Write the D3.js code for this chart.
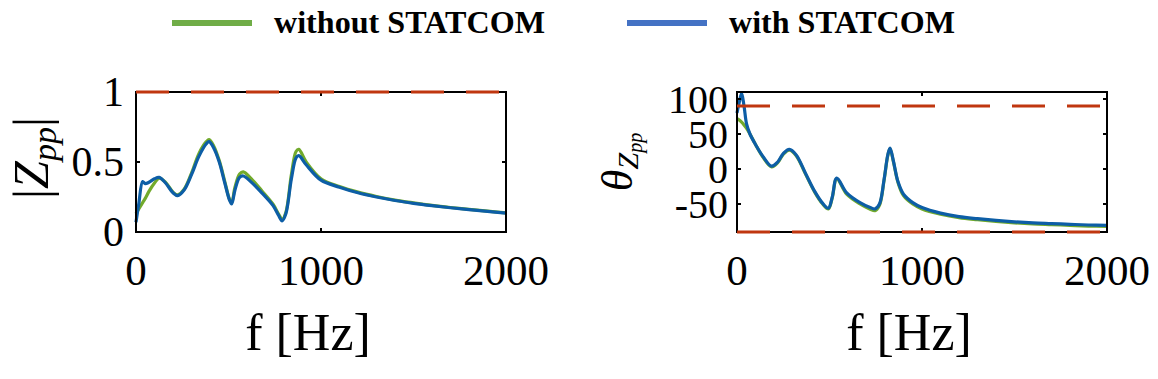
<!DOCTYPE html>
<html>
<head>
<meta charset="utf-8">
<script src="https://cdn.jsdelivr.net/npm/d3@7"></script>
<style>
body { margin: 0; background: #fff; }
text { font-family: "Liberation Serif", "DejaVu Serif", serif; }
</style>
</head>
<body>
<svg id="chart" width="1158" height="379"></svg>
<script>
// legend
const seriesNames = ["without STATCOM", "with STATCOM"];
const legendColors = ["#70ad47", "#4472c4"];
const lineColors = ["#72aa2c", "#0d5ea6"];

// |Zpp| panel
const magFreq = [0, 15, 36, 50, 70, 100, 125, 160, 200, 225, 260, 300, 340, 380, 395, 420, 450, 480, 505, 517,
    535, 560, 580, 620, 680, 740, 770, 790, 810, 840, 865, 880, 920, 1000, 1100, 1200, 1300, 1400, 1500, 1600,
    1700, 1800, 1900, 2000];
const magWithout = [0.13, 0.165, 0.21, 0.24, 0.29, 0.35, 0.385, 0.355, 0.285, 0.265, 0.305, 0.42, 0.56, 0.645, 0.66, 0.615, 0.51, 0.36, 0.235, 0.21,
    0.32, 0.415, 0.43, 0.385, 0.295, 0.2, 0.13, 0.09, 0.14, 0.41, 0.575, 0.59, 0.5, 0.38, 0.325, 0.285, 0.254, 0.228, 0.208, 0.19,
    0.175, 0.162, 0.149, 0.137];
const magWith = [0.07, 0.2, 0.36, 0.345, 0.355, 0.38, 0.39, 0.35, 0.28, 0.26, 0.3, 0.41, 0.54, 0.63, 0.645, 0.6, 0.5, 0.35, 0.23, 0.2,
    0.3, 0.39, 0.4, 0.36, 0.28, 0.19, 0.12, 0.08, 0.13, 0.38, 0.53, 0.545, 0.48, 0.37, 0.32, 0.28, 0.25, 0.225, 0.205, 0.188,
    0.173, 0.16, 0.147, 0.135];
const magTicks = [0, 0.5, 1];
const magLimits = [1];

// angle panel
const angFreq = [0, 12, 25, 38, 52, 70, 100, 140, 187, 220, 250, 283, 320, 370, 420, 460, 494, 515, 539, 593,
    665, 720, 746, 770, 795, 815, 827, 845, 870, 900, 950, 1000, 1100, 1200, 1300, 1400, 1500, 1600, 1700, 1800,
    1900, 2000];
const angWithout = [72, 70, 67, 63, 58, 50, 35, 17, 3, 9, 21, 27, 19, -7, -33, -49, -57, -41, -14, -36,
    -50, -57.5, -59.5, -52, -16, 19, 29, 11, -19, -38, -50, -57, -64.5, -69.5, -72.5, -75, -77, -78.5, -79.5, -80.5,
    -81.5, -82];
const angWith = [80, 95, 108, 90, 64, 50, 35, 18, 4, 10, 22, 28, 20, -6, -32, -48, -56, -40, -13, -34,
    -48, -55, -57, -50, -15, 20, 30, 12, -18, -36, -48, -55, -63, -68, -71, -73.5, -75.5, -77, -78, -79,
    -80, -80.5];
const angTicks = [-50, 0, 50, 100];
const angLimits = [90, -90];

const freqTicks = [0, 1000, 2000];

const svg = d3.select("#chart");

// legend on top
const legendX = [172, 627];
seriesNames.forEach((name, i) => {
    svg.append("line")
        .attr("x1", legendX[i]).attr("x2", legendX[i] + 80)
        .attr("y1", 23).attr("y2", 23)
        .attr("stroke", legendColors[i])
        .attr("stroke-width", 6);
    svg.append("text")
        .attr("x", legendX[i] + 102)
        .attr("y", 33)
        .attr("font-size", 31)
        .attr("font-weight", "bold")
        .attr("textLength", i == 0 ? 271 : 226)
        .attr("lengthAdjust", "spacingAndGlyphs")
        .text(name);
});

function drawPanel(cfg) {
    const x = d3.scaleLinear().domain([0, 2000]).range([cfg.left, cfg.left + 370]);
    const y = d3.scaleLinear().domain(cfg.yDomain).range([232, 92]);
    const g = svg.append("g");

    // curves
    const line = d3.line()
        .x((d, i) => x(cfg.freq[i]))
        .y(d => y(d))
        .curve(d3.curveCatmullRom.alpha(0.5));
    [cfg.without, cfg.with].forEach((vals, i) => {
        g.append("path")
            .attr("d", line(vals))
            .attr("fill", "none")
            .attr("stroke", lineColors[i])
            .attr("stroke-width", 3.2);
    });

    // box with inward ticks
    g.append("rect")
        .attr("x", x(0)).attr("y", y.range()[1])
        .attr("width", x(2000) - x(0)).attr("height", y.range()[0] - y.range()[1])
        .attr("fill", "none").attr("stroke", "#000").attr("stroke-width", 2);

    const tickLen = 4;
    freqTicks.forEach(t => {
        g.append("line").attr("x1", x(t)).attr("x2", x(t)).attr("y1", 232).attr("y2", 232 - tickLen)
            .attr("stroke", "#000").attr("stroke-width", 2);
        g.append("line").attr("x1", x(t)).attr("x2", x(t)).attr("y1", 92).attr("y2", 92 + tickLen)
            .attr("stroke", "#000").attr("stroke-width", 2);
        g.append("text")
            .attr("x", x(t)).attr("y", 285)
            .attr("text-anchor", "middle")
            .attr("font-size", 43)
            .text(t);
    });
    cfg.yTicks.forEach(t => {
        g.append("line").attr("x1", x(0)).attr("x2", x(0) + tickLen).attr("y1", y(t)).attr("y2", y(t))
            .attr("stroke", "#000").attr("stroke-width", 2);
        g.append("line").attr("x1", x(2000)).attr("x2", x(2000) - tickLen).attr("y1", y(t)).attr("y2", y(t))
            .attr("stroke", "#000").attr("stroke-width", 2);
        g.append("text")
            .attr("x", x(0) - cfg.labelGap).attr("y", y(t))
            .attr("dy", "0.34em")
            .attr("text-anchor", "end")
            .attr("font-size", cfg.tickFont)
            .text(t);
    });

    // limit lines
    cfg.limits.forEach(v => {
        g.append("line")
            .attr("x1", x(0)).attr("x2", x(2000))
            .attr("y1", y(v)).attr("y2", y(v))
            .attr("stroke", "#c0360f")
            .attr("stroke-width", 3)
            .attr("stroke-dasharray", "33 22");
    });

    g.append("text")
        .attr("x", x(1000) - 13).attr("y", 350)
        .attr("text-anchor", "middle")
        .attr("font-size", 52)
        .text("f [Hz]");

    return g;
}

drawPanel({left: 136, freq: magFreq, without: magWithout, with: magWith, yDomain: [0, 1],
    yTicks: magTicks, limits: magLimits, labelGap: 12, tickFont: 42});
drawPanel({left: 737, freq: angFreq, without: angWithout, with: angWith, yDomain: [-90, 110],
    yTicks: angTicks, limits: angLimits, labelGap: 9, tickFont: 40});

// y labels
const lab1 = svg.append("text")
    .attr("transform", "translate(48,158) rotate(-90)")
    .attr("text-anchor", "middle")
    .attr("font-size", 50);
lab1.append("tspan").text("|");
lab1.append("tspan").attr("font-style", "italic").text("Z");
lab1.append("tspan").attr("font-style", "italic").attr("font-size", 34).attr("dy", 8).text("pp");
lab1.append("tspan").attr("dy", -8).text("|");

const lab2 = svg.append("text")
    .attr("transform", "translate(632,162) rotate(-90)")
    .attr("text-anchor", "middle")
    .attr("font-size", 44);
lab2.append("tspan").attr("font-style", "italic").text("θ");
lab2.append("tspan").attr("font-style", "italic").attr("font-size", 30).attr("dy", 6).text("Z");
lab2.append("tspan").attr("font-style", "italic").attr("font-size", 20).attr("dy", 4).text("pp");
</script>
</body>
</html>
